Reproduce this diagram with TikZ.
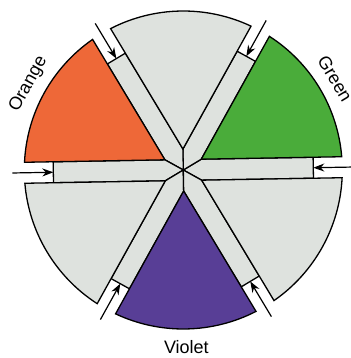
\documentclass[tikz,border=0pt]{standalone}
\usepackage{fontspec}
\setmainfont{Liberation Sans}
\usetikzlibrary{arrows.meta,calc}
\definecolor{pieorange}{RGB}{238,104,56}
\definecolor{piegreen}{RGB}{74,172,58}
\definecolor{pieviolet}{RGB}{88,62,150}
\definecolor{piegray}{RGB}{222,226,222}
\newcommand{\hw}{10.5}     % half width of a channel
\newcommand{\rad}{159}     % outer radius of the wheel
\newcommand{\crossd}{130}  % where the cross bars sit
\newcommand{\sectorpath}[1]{(#1:2*\hw) -- (#1-30+\al:\rad)
  arc[start angle=#1-30+\al,end angle=#1+30-\al,radius=\rad] -- cycle}
\newcommand{\chanpath}[1]{(0,0) -- (#1+30:2*\hw)
  -- ($(#1:\crossd)+(#1+90:\hw)$) -- ($(#1:\crossd)+(#1-90:\hw)$)
  -- (#1-30:2*\hw) -- cycle}
\tikzset{
  wedge/.style={draw,line width=1.3pt},
  chan/.style={draw,fill=piegray,line width=1.3pt},
  feed/.style={-{Stealth[length=11pt,width=8pt]},line width=1.2pt},
  lbl/.style={font=\fontsize{18}{20}\selectfont,inner sep=0pt},
}

\begin{document}
\begin{tikzpicture}[x=1pt,y=1pt]
  \useasboundingbox (-183.3,-188) rectangle (166.7,170);
  \pgfmathsetmacro{\al}{asin(\hw/\rad)}
  \begin{scope}[rotate=1]
  % Channels between the wedges
  \path[chan] \chanpath{0};
  \path[chan] \chanpath{60};
  \path[chan] \chanpath{120};
  \path[chan] \chanpath{180};
  \path[chan] \chanpath{240};
  \path[chan] \chanpath{300};
  % Wedges
  \path[wedge,fill=piegray]   \sectorpath{90};
  \path[wedge,fill=piegreen]  \sectorpath{30};
  \path[wedge,fill=piegray]   \sectorpath{-30};
  \path[wedge,fill=pieviolet] \sectorpath{-90};
  \path[wedge,fill=piegray]   \sectorpath{-150};
  \path[wedge,fill=pieorange] \sectorpath{150};
  % Cross bars and feed points
  \coordinate (cbE)  at (0:\crossd);
  \coordinate (cbNE) at (60:\crossd);
  \coordinate (cbNW) at (120:\crossd);
  \coordinate (cbW)  at (180:\crossd);
  \coordinate (cbSW) at (240:\crossd);
  \coordinate (cbSE) at (300:\crossd);
  \coordinate (inE)  at (0:171);
  \coordinate (inNE) at (60:171);
  \coordinate (inNW) at (120:171);
  \coordinate (inW)  at (180:171);
  \coordinate (inSW) at (240:171);
  \coordinate (inSE) at (300:171);
  % Arrows into the channels
  \draw[feed] (inE)  -- (cbE);
  \draw[feed] (inNE) -- (cbNE);
  \draw[feed] (inNW) -- (cbNW);
  \draw[feed] (inW)  -- (cbW);
  \draw[feed] (inSW) -- (cbSW);
  \draw[feed] (inSE) -- (cbSE);
  % Labels
  \node[lbl,rotate=61]  (orangelbl) at (150:177) {Orange};
  \node[lbl,rotate=-59] (greenlbl)  at (30:177)  {Green};
  \node[lbl]            (violetlbl) at (-90:177) {Violet};
  \end{scope}
\end{tikzpicture}
\end{document}
